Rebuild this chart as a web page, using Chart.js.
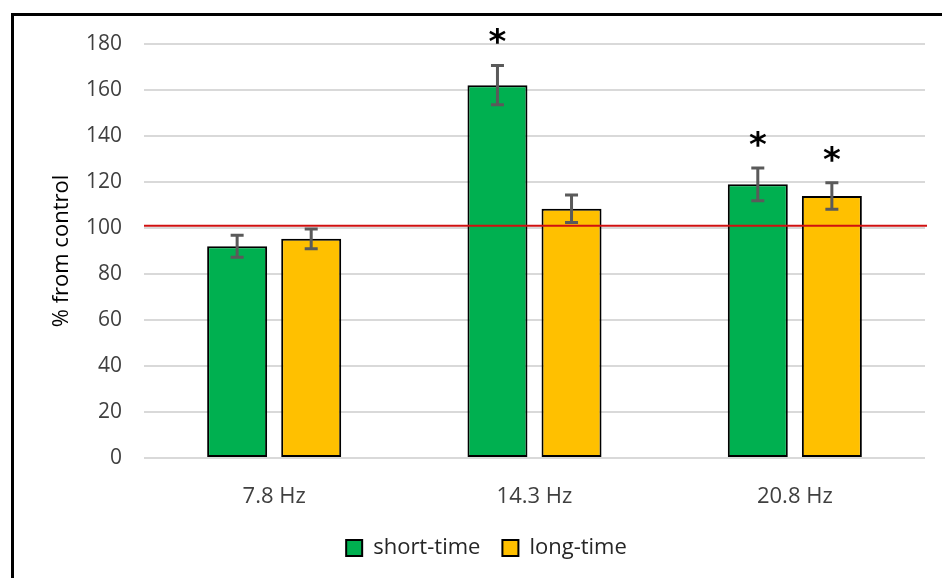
<!DOCTYPE html>
<html>
<head>
<meta charset="utf-8">
<script src="https://cdn.jsdelivr.net/npm/chart.js@4.4.1/dist/chart.umd.min.js"></script>
<style>
  html, body { margin: 0; padding: 0; background: #fff; overflow: hidden; }
  #frame { position: absolute; left: 11px; top: 13px; width: 1000px; height: 700px; border: 3px solid #000; }
  #chart { position: absolute; left: 0; top: 0; }
</style>
</head>
<body>
<div id="frame"></div>
<canvas id="chart" width="942" height="578"></canvas>
<script>
const categories = ['7.8 Hz', '14.3 Hz', '20.8 Hz'];
const shortTime = [92.1, 162.1, 119.0];
const longTime = [95.3, 108.4, 113.9];
const shortErr = [4.8, 8.5, 7.1];
const longErr = [4.3, 6.0, 5.8];
const shortSig = [false, true, true];
const longSig = [false, false, true];
const controlLevel = 101;
const yMin = 0, yMax = 180, yStep = 20;

const errors = [shortErr, longErr];
const stars = [shortSig, longSig];

// error bars, control line and significance marks
const overlayPlugin = {
    id: 'overlay',
    afterLayout(chart) {
        // legend sits a bit right of centre in the original
        chart.legend.left += 24;
        chart.legend.right += 24;
    },
    afterDatasetsDraw(chart) {
        const ctx = chart.ctx;
        const y = chart.scales.y;
        const area = chart.chartArea;

        // red control line
        const ly = y.getPixelForValue(controlLevel);
        ctx.save();
        ctx.strokeStyle = '#d01010';
        ctx.lineWidth = 2;
        ctx.beginPath();
        ctx.moveTo(area.left, ly);
        ctx.lineTo(area.right + 2, ly);
        ctx.stroke();

        chart.data.datasets.forEach(function(ds, di) {
            const meta = chart.getDatasetMeta(di);
            meta.data.forEach(function(bar, i) {
                const v = ds.data[i];
                const e = errors[di][i];
                const top = y.getPixelForValue(v + e);
                const bot = y.getPixelForValue(v - e);
                const x = bar.x;
                ctx.strokeStyle = '#5a5a5a';
                ctx.lineWidth = 3;
                ctx.beginPath();
                ctx.moveTo(x, top);
                ctx.lineTo(x, bot);
                ctx.moveTo(x - 6.5, top);
                ctx.lineTo(x + 6.5, top);
                ctx.moveTo(x - 6.5, bot);
                ctx.lineTo(x + 6.5, bot);
                ctx.stroke();

                if (stars[di][i]) {
                    ctx.fillStyle = '#000';
                    ctx.font = 'bold 34px "DejaVu Sans"';
                    ctx.textAlign = 'center';
                    ctx.textBaseline = 'middle';
                    ctx.fillText('*', x, top - 21);
                }
            });
        });
        ctx.restore();
    }
};

const ctx = document.getElementById('chart').getContext('2d');
const myChart = new Chart(ctx, {
    type: 'bar',
    data: {
        labels: categories,
        datasets: [{
            label: 'short-time',
            data: shortTime,
            backgroundColor: '#00b050',
            borderColor: '#000',
            borderWidth: 2,
            borderSkipped: false
        }, {
            label: 'long-time',
            data: longTime,
            backgroundColor: '#ffc000',
            borderColor: '#000',
            borderWidth: 2,
            borderSkipped: false
        }]
    },
    options: {
        responsive: false,
        animation: false,
        categoryPercentage: 0.569,
        barPercentage: 0.81,
        layout: {
            padding: { left: 0, top: 44, right: 17, bottom: 9 }
        },
        plugins: {
            tooltip: { enabled: false },
            legend: {
                position: 'bottom',
                labels: {
                    boxWidth: 16,
                    boxHeight: 16,
                    padding: 22,
                    color: '#262626',
                    font: { family: 'Open Sans', size: 22 }
                }
            }
        },
        scales: {
            x: {
                grid: { display: false },
                border: { display: false },
                ticks: {
                    padding: 18,
                    color: '#404040',
                    font: { family: 'Open Sans', size: 22 }
                },
                afterFit(scale) { scale.height = 57; }
            },
            y: {
                min: yMin,
                max: yMax,
                ticks: {
                    stepSize: yStep,
                    padding: 22,
                    color: '#404040',
                    font: { family: 'Open Sans', size: 21 }
                },
                grid: { color: '#d9d9d9', lineWidth: 2, drawTicks: false },
                border: { display: false },
                title: {
                    display: true,
                    text: '% from control',
                    color: '#000',
                    padding: { top: 49, bottom: 0 },
                    font: { family: 'Open Sans', size: 22 }
                },
                afterFit(scale) { scale.width = 144; }
            }
        }
    },
    plugins: [overlayPlugin]
});
</script>
</body>
</html>
